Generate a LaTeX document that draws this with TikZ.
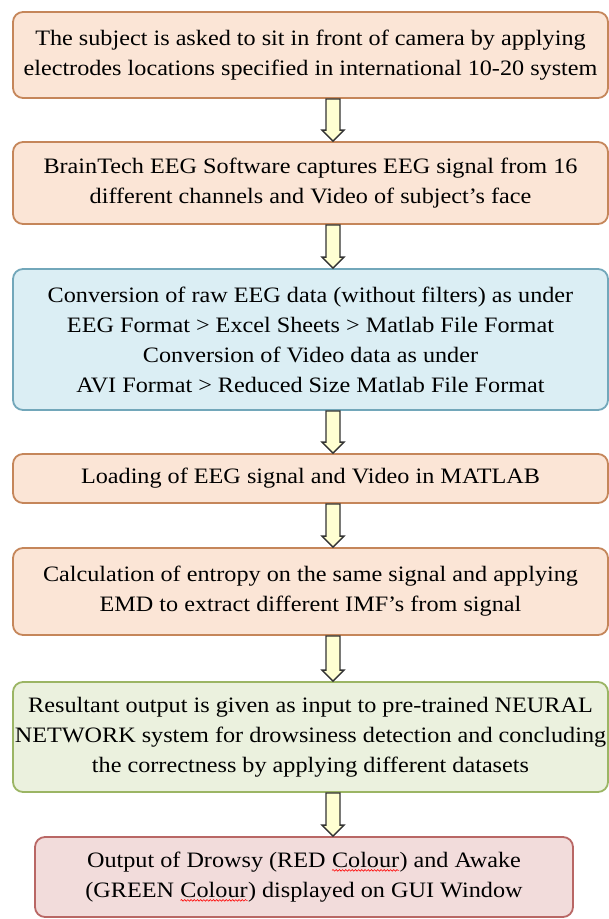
\documentclass[tikz,border=0pt]{standalone}
\usepackage{fontspec}
\setmainfont{Liberation Serif}[FakeStretch=1.1]
\usetikzlibrary{calc,decorations.pathmorphing}
\definecolor{orfill}{HTML}{FBE5D6}
\definecolor{ordraw}{HTML}{C5865A}
\definecolor{blfill}{HTML}{DBEEF4}
\definecolor{bldraw}{HTML}{72A7BA}
\definecolor{grfill}{HTML}{EBF1DE}
\definecolor{grdraw}{HTML}{9BB564}
\definecolor{rdfill}{HTML}{F2DCDB}
\definecolor{rddraw}{HTML}{B96765}
\definecolor{arfill}{HTML}{FFFFD2}
\newcommand\redwave[1]{\tikz[baseline=(w.base),x=1cm,y=1cm]{\node[inner sep=0pt,outer sep=0pt,
   minimum width=0pt,minimum height=0pt,draw=none,fill=none,sharp corners] (w) {#1};
  \draw[red, line width=0.6pt, sharp corners, decorate, decoration={snake,amplitude=0.8pt,segment length=3.2pt}]
   ([yshift=-3pt]w.base west) -- ([yshift=-3pt]w.base east);}}
\newcommand\flowarrow[2]{\draw[flowarr] let \p1=(#1.south), \p2=(#2.north) in
  (326pt,\y1) -- (340pt,\y1) -- (340pt,\y2+11pt) -- (344pt,\y2+11pt) -- (333pt,\y2)
  -- (322pt,\y2+11pt) -- (326pt,\y2+11pt) -- cycle;}
\begin{document}
\begin{tikzpicture}[x=1pt,y=-1pt,
  box/.style={draw=ordraw, fill=orfill, line width=1.8pt, rounded corners=10pt,
    align=center, inner sep=0pt, font=\fontsize{22}{30}\selectfont},
  bluebox/.style={box, draw=bldraw, fill=blfill},
  greenbox/.style={box, draw=grdraw, fill=grfill},
  redbox/.style={box, draw=rddraw, fill=rdfill},
  flowarr/.style={draw=black!80, fill=arfill, line width=1.3pt, line join=miter}]
\useasboundingbox (0,0) rectangle (609,919);
\node[box, minimum width=595pt, minimum height=86pt] (b1) at (310.5,55)
  {The subject is asked to sit in front of camera by applying\\electrodes locations specified in international 10-20 system};
\node[box, minimum width=595pt, minimum height=82pt] (b2) at (310.5,183)
  {BrainTech EEG Software captures EEG signal from 16\\different channels and Video of subject’s face};
\node[bluebox, minimum width=595pt, minimum height=141pt] (b3) at (310.5,339.5)
  {Conversion of raw EEG data (without filters) as under\\EEG Format > Excel Sheets > Matlab File Format\\Conversion of Video data as under\\AVI Format > Reduced Size Matlab File Format};
\node[box, minimum width=595pt, minimum height=49pt] (b4) at (310.5,478.5)
  {Loading of EEG signal and Video in MATLAB};
\node[box, minimum width=595pt, minimum height=87pt] (b5) at (310.5,591.5)
  {Calculation of entropy on the same signal and applying\\EMD to extract different IMF’s from signal};
\node[greenbox, minimum width=595pt, minimum height=110pt] (b6) at (310.5,737)
  {Resultant output is given as input to pre-trained NEURAL\\NETWORK system for drowsiness detection and concluding\\the correctness by applying different datasets};
\node[redbox, minimum width=538pt, minimum height=80pt] (b7) at (304,877)
  {Output of Drowsy (RED \redwave{Colour}) and Awake\\(GREEN \redwave{Colour}) displayed on GUI Window};
\flowarrow{b1}{b2}
\flowarrow{b2}{b3}
\flowarrow{b3}{b4}
\flowarrow{b4}{b5}
\flowarrow{b5}{b6}
\flowarrow{b6}{b7}
\end{tikzpicture}
\end{document}
